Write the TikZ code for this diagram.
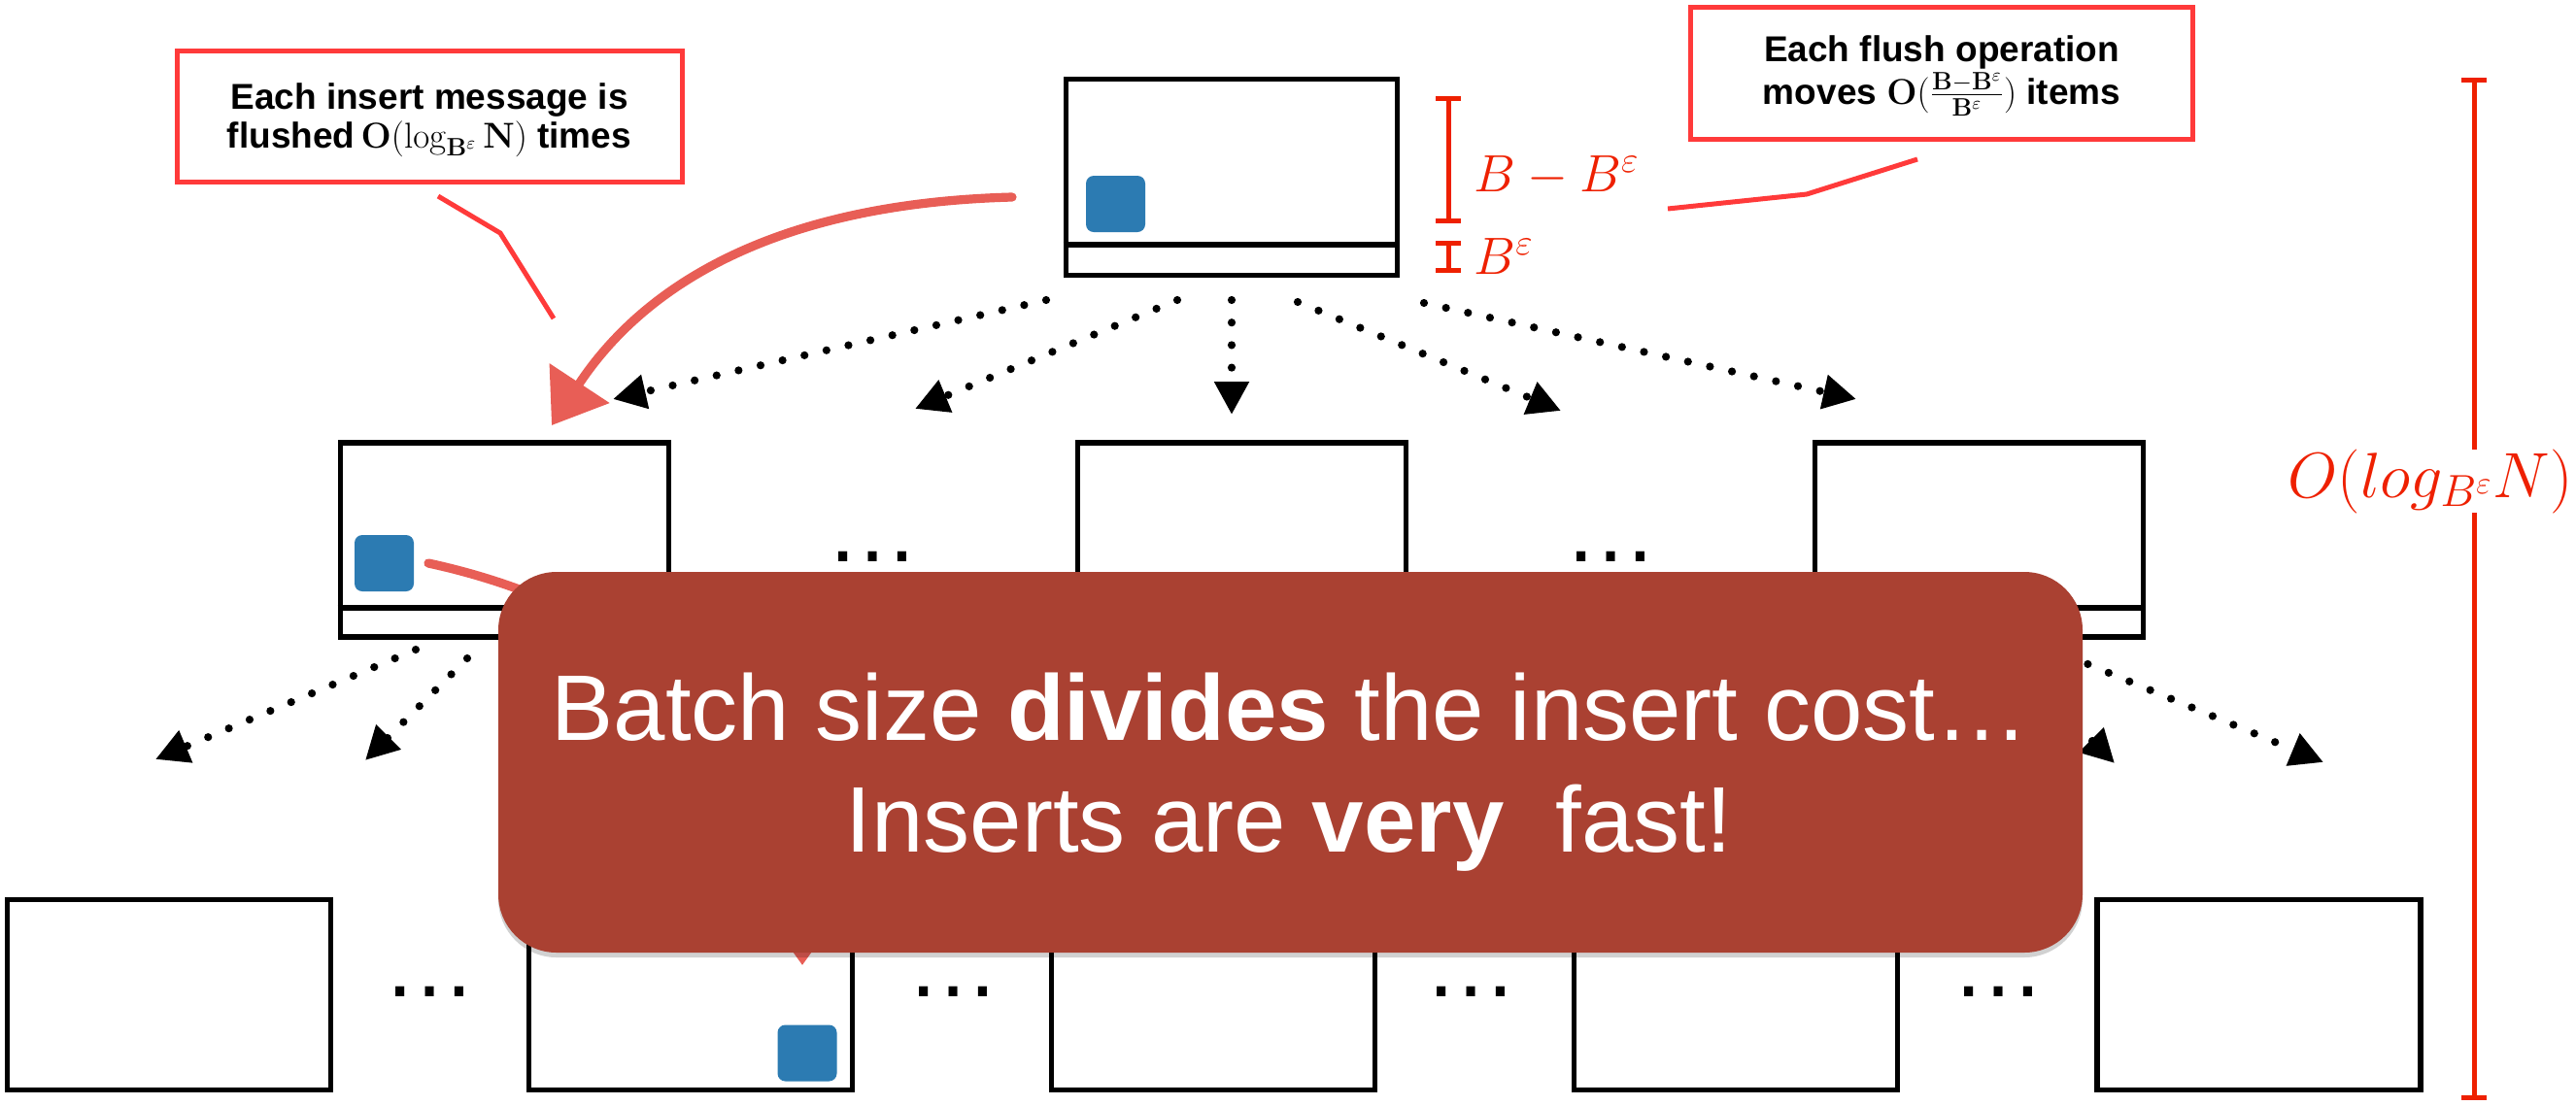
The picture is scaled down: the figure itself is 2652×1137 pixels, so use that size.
\RequirePackage{fix-cm}
\documentclass[tikz,border=0pt]{standalone}
\usepackage[no-math]{fontspec}
\setmainfont{Liberation Sans}
\usetikzlibrary{arrows.meta,shadows}
\definecolor{calloutred}{RGB}{255,58,58}
\definecolor{brackred}{RGB}{238,32,0}
\definecolor{chalkred}{RGB}{232,94,86}
\definecolor{msgblue}{RGB}{44,123,178}
\definecolor{bannerred}{RGB}{170,65,50}
\begin{document}
\begin{tikzpicture}[x=0.5pt,y=-0.5pt,
  treebox/.style={draw=black,line width=2.9pt,fill=white,inner sep=0pt},
  rootbox/.style={treebox,minimum width=170.5pt,minimum height=101pt},
  midbox/.style={treebox,minimum width=169pt,minimum height=100pt},
  leafbox/.style={treebox,minimum width=166.5pt,minimum height=98pt},
  divider/.style={draw=black,line width=2.9pt},
  msg/.style={fill=msgblue,rounded corners=4pt,minimum width=30.5pt,minimum height=29pt,inner sep=0pt},
  flow/.style={line width=4.1pt,line cap=round,dash pattern=on 0pt off 11.6pt,-{Triangle[length=17pt,width=17pt]}},
  callout/.style={draw=calloutred,line width=2.5pt,fill=white,inner sep=0pt},
  calltext/.style={font=\fontsize{18.5}{20}\selectfont\bfseries,anchor=base,inner sep=0pt},
  leader/.style={draw=calloutred,line width=2.5pt},
  chalk/.style={draw=chalkred,line width=4.6pt,line cap=round,-{Triangle[length=26pt,width=36pt]}},
  bracket/.style={draw=brackred,line width=2.5pt,{Bar[width=13pt]}-{Bar[width=13pt]}},
  redmath/.style={text=brackred,inner sep=0pt},
  dotsnode/.style={font=\fontsize{48}{50}\selectfont,anchor=base,inner sep=0pt},
  banner/.style={fill=bannerred,rounded corners=30pt,minimum width=815.5pt,minimum height=196pt,inner sep=0pt,
    drop shadow={shadow xshift=0pt,shadow yshift=-2.5pt,opacity=0.18,fill=black}},
  bannertext/.style={text=white,font=\fontsize{48}{50}\selectfont,anchor=base,inner sep=0pt}]
\useasboundingbox (0,0) rectangle (2652,1137);

% ---------- tree boxes ----------
\node[rootbox] (root) at (1268,182.5) {};
\coordinate (rdiv) at (0,252);
\draw[divider] (root.west |- rdiv) -- (root.east |- rdiv);
\node[msg] (m0) at (1148.5,210) {};

\node[midbox] (ml) at (519.5,556) {};
\node[midbox] (mm) at (1278.5,556) {};
\node[midbox] (mr) at (2037.5,556) {};
\coordinate (mdiv) at (0,626);
\draw[divider] (ml.west |- mdiv) -- (ml.east |- mdiv);
\draw[divider] (mm.west |- mdiv) -- (mm.east |- mdiv);
\draw[divider] (mr.west |- mdiv) -- (mr.east |- mdiv);
\node[msg] (m1) at (395.5,580) {};

\node[leafbox] (l1) at (174,1024.5) {};
\node[leafbox] (l2) at (711,1024.5) {};
\node[leafbox] (l3) at (1249,1024.5) {};
\node[leafbox] (l4) at (1787,1024.5) {};
\node[leafbox] (l5) at (2325.5,1024.5) {};
\node[msg] (m2) at (831,1084.5) {};

% ellipses
\node[dotsnode] (e1) at (898,578) {…};
\node[dotsnode] (e2) at (1658,578) {…};
\node[dotsnode] (e3) at (442,1026) {…};
\node[dotsnode] (e4) at (981,1026) {…};
\node[dotsnode] (e5) at (1514,1026) {…};
\node[dotsnode] (e6) at (2057,1026) {…};

% ---------- dotted child pointers ----------
\coordinate (r1s) at (1077,309); \coordinate (r1e) at (631,411);
\coordinate (r2s) at (1212,309); \coordinate (r2e) at (942,421);
\coordinate (r3s) at (1268,309); \coordinate (r3e) at (1268,427);
\coordinate (r4s) at (1336,311); \coordinate (r4e) at (1607,423);
\coordinate (r5s) at (1466,312); \coordinate (r5e) at (1911,411);
\draw[flow] (r1s) -- (r1e);
\draw[flow] (r2s) -- (r2e);
\draw[flow] (r3s) -- (r3e);
\draw[flow] (r4s) -- (r4e);
\draw[flow] (r5s) -- (r5e);

\coordinate (a1s) at (428,669); \coordinate (a1e) at (160,782);
\coordinate (a2s) at (481,678); \coordinate (a2e) at (376,783);
\coordinate (a3s) at (559,678); \coordinate (a3e) at (664,783);
\coordinate (a4s) at (612,669); \coordinate (a4e) at (880,782);
\draw[flow] (a1s) -- (a1e);
\draw[flow] (a2s) -- (a2e);
\draw[flow] (a3s) -- (a3e);
\draw[flow] (a4s) -- (a4e);

\coordinate (b1s) at (1186,669); \coordinate (b1e) at (918,782);
\coordinate (b2s) at (1239,678); \coordinate (b2e) at (1134,783);
\coordinate (b3s) at (1317,678); \coordinate (b3e) at (1422,783);
\coordinate (b4s) at (1370,669); \coordinate (b4e) at (1638,782);
\draw[flow] (b1s) -- (b1e);
\draw[flow] (b2s) -- (b2e);
\draw[flow] (b3s) -- (b3e);
\draw[flow] (b4s) -- (b4e);

\coordinate (c1s) at (1946,669); \coordinate (c1e) at (1678,782);
\coordinate (c2s) at (1999,678); \coordinate (c2e) at (1894,783);
\coordinate (c3s) at (2072,681); \coordinate (c3e) at (2177,786);
\coordinate (c4s) at (2128,675); \coordinate (c4e) at (2392,785);
\draw[flow] (c1s) -- (c1e);
\draw[flow] (c2s) -- (c2e);
\draw[flow] (c3s) -- (c3e);
\draw[flow] (c4s) -- (c4e);

% ---------- chalk arrows (message path) ----------
\coordinate (k1s) at (1042,203); \coordinate (k1e) at (568,438);
\draw[chalk] (k1s) .. controls (780,210) and (655,306) .. (k1e);
\coordinate (k2s) at (441,580); \coordinate (k2e) at (826,994);
\draw[chalk] (k2s) .. controls (650,625) and (826,760) .. (k2e);

% ---------- banner ----------
\node[banner] (banner) at (1328.5,785) {};
\node[bannertext] (bt1) at (1328,762) {Batch size \textbf{divides} the insert cost…};
\node[bannertext] (bt2) at (1327,877) {Inserts are \textbf{very}\ \ fast!};

% ---------- callouts ----------
\node[callout,minimum width=260pt,minimum height=67.5pt] (lcall) at (442,119.5) {};
\node[calltext] (lc1) at (442,112) {Each insert message is};
\node[calltext] (lc2) at (442,152) {flushed\,$\mathbf{O(\log_{B^\varepsilon}N)}$ times};
\coordinate (ll1) at (451,202); \coordinate (ll2) at (515,240); \coordinate (ll3) at (570,328);
\draw[leader] (ll1) -- (ll2) -- (ll3);

\node[callout,minimum width=258.5pt,minimum height=68pt] (rcall) at (1998.5,75) {};
\node[calltext] (rc1) at (1999,63) {Each flush operation};
\node[calltext] (rc2) at (1999,107) {moves $\mathbf{O(\frac{B-B^\varepsilon}{B^\varepsilon})}$ items};
\coordinate (rl1) at (1974,164); \coordinate (rl2) at (1860,200); \coordinate (rl3) at (1717,215);
\draw[leader] (rl1) -- (rl2) -- (rl3);

% ---------- brackets ----------
\coordinate (q1t) at (1491,99);  \coordinate (q1b) at (1491,230);
\coordinate (q2t) at (1491,248); \coordinate (q2b) at (1491,281);
\coordinate (q3t) at (2547,80);  \coordinate (q3b) at (2547,1133);
\draw[bracket] (q1t) -- (q1b);
\draw[bracket] (q2t) -- (q2b);
\draw[bracket] (q3t) -- (q3b);
\node[redmath,anchor=base west,font=\fontsize{27}{30}\selectfont] (lblA) at (1517,197) {$B-B^{\varepsilon}$};
\node[redmath,anchor=base west,font=\fontsize{27}{30}\selectfont] (lblB) at (1517,282) {$B^{\varepsilon}$};
\node[redmath,fill=white,anchor=base,font=\fontsize{33}{36}\selectfont] (lblC) at (2502,512) {$O(log_{B^\varepsilon}N)$};
\end{tikzpicture}
\end{document}
